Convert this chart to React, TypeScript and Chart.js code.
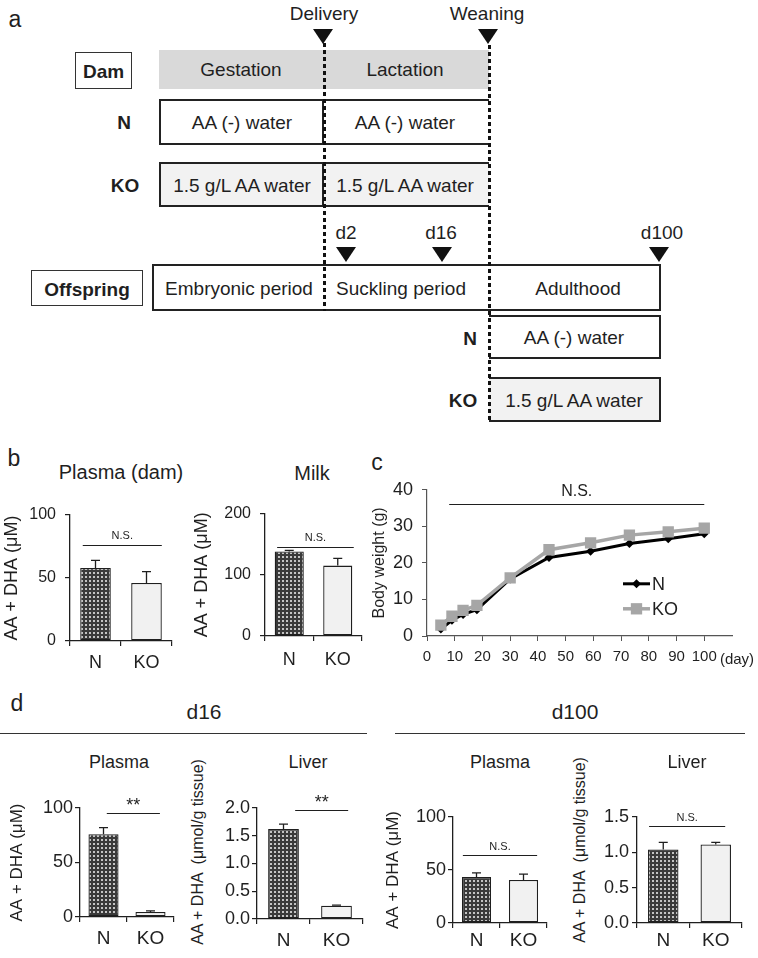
import React, { useEffect, useRef } from 'react';
import { Chart, registerables } from 'chart.js';

Chart.register(...registerables);

const FONT = '"Liberation Sans", Arial, Helvetica, sans-serif';
const INK = '#1f1f1f';

// ---------------- data ----------------
const groups = ['N', 'KO'];

const damPlasmaMean = [58, 46];
const damPlasmaErr = [6, 9];
const damPlasmaSig = 76;
const damPlasmaTicks = [0, 50, 100];

const milkMean = [138, 115];
const milkErr = [2, 12];
const milkSig = 146;
const milkTicks = [0, 100, 200];

const bwDays = [5, 9, 13, 18, 30, 44, 59, 73, 87, 100];
const bwN = [1.9, 4.3, 5.9, 7.2, 15.6, 21.5, 23.2, 25.3, 26.6, 28.0];
const bwKO = [3.0, 5.4, 7.0, 8.4, 15.9, 23.6, 25.5, 27.6, 28.5, 29.5];
const bwSig = 36;
const bwSigDays = [8, 100];
const bwYTicks = [0, 10, 20, 30, 40];
const bwXTicks = [0, 10, 20, 30, 40, 50, 60, 70, 80, 90, 100];

const d16PlasmaMean = [76, 4.6];
const d16PlasmaErr = [6, 1];
const d16PlasmaSig = 95;
const d16LiverMean = [1.62, 0.24];
const d16LiverErr = [0.09, 0.01];
const d16LiverSig = 1.96;
const d100PlasmaMean = [43.5, 40.6];
const d100PlasmaErr = [3.8, 5.6];
const d100PlasmaSig = 64;
const d100LiverMean = [1.04, 1.11];
const d100LiverErr = [0.1, 0.03];
const d100LiverSig = 1.37;
const plasmaTicks = [0, 50, 100];
const liver16Ticks = [0, 0.5, 1.0, 1.5, 2.0];
const liver100Ticks = [0, 0.5, 1.0, 1.5];

// ---------------- plugins ----------------
const annotPlugin = {
  id: 'annot',
  afterDatasetsDraw(chart: any, _args: any, opts: any) {
    const ctx = chart.ctx as CanvasRenderingContext2D;
    const xs = chart.scales.x;
    const ys = chart.scales.y;
    ctx.save();
    ctx.strokeStyle = INK;
    ctx.fillStyle = INK;
    if (opts.errors) {
      const meta = chart.getDatasetMeta(0);
      const vals = chart.data.datasets[0].data;
      meta.data.forEach((bar: any, i: number) => {
        const top = ys.getPixelForValue(vals[i] + opts.errors[i]);
        ctx.lineWidth = 1.3;
        ctx.beginPath();
        ctx.moveTo(bar.x, bar.y);
        ctx.lineTo(bar.x, top);
        ctx.moveTo(bar.x - opts.cap, top);
        ctx.lineTo(bar.x + opts.cap, top);
        ctx.stroke();
      });
    }
    if (opts.sig) {
      const s = opts.sig;
      let x1: number, x2: number;
      if (xs.type === 'category') {
        const p0 = xs.getPixelForValue(0);
        const p1 = xs.getPixelForValue(1);
        x1 = p0 + s.from * (p1 - p0);
        x2 = p0 + s.to * (p1 - p0);
      } else {
        x1 = xs.getPixelForValue(s.from);
        x2 = xs.getPixelForValue(s.to);
      }
      const y = Math.round(ys.getPixelForValue(s.value)) + 0.5;
      ctx.lineWidth = 1.2;
      ctx.beginPath();
      ctx.moveTo(x1, y);
      ctx.lineTo(x2, y);
      ctx.stroke();
      ctx.font = `${s.size}px ${FONT}`;
      ctx.textAlign = 'center';
      ctx.textBaseline = 'bottom';
      ctx.fillText(s.text, (x1 + x2) / 2 + (s.dx || 0), y - s.gap);
    }
    ctx.restore();
  },
};

const innerLegend = {
  id: 'innerLegend',
  afterDraw(chart: any, _args: any, opts: any) {
    const ctx = chart.ctx as CanvasRenderingContext2D;
    const ca = chart.chartArea;
    const x0 = ca.left + opts.dx;
    const y0 = ca.top + opts.dy;
    chart.data.datasets.forEach((ds: any, i: number) => {
      const y = y0 + i * opts.rowGap;
      ctx.save();
      ctx.strokeStyle = ds.borderColor;
      ctx.fillStyle = ds.borderColor;
      ctx.lineWidth = ds.borderWidth;
      ctx.beginPath();
      ctx.moveTo(x0, y);
      ctx.lineTo(x0 + opts.len, y);
      ctx.stroke();
      const cx = x0 + opts.len / 2;
      const r = ds.pointRadius;
      ctx.beginPath();
      if (ds.pointStyle === 'rectRot') {
        ctx.moveTo(cx, y - r);
        ctx.lineTo(cx + r, y);
        ctx.lineTo(cx, y + r);
        ctx.lineTo(cx - r, y);
        ctx.closePath();
      } else {
        const h = Math.SQRT1_2 * r;
        ctx.rect(cx - h, y - h, 2 * h, 2 * h);
      }
      ctx.fill();
      ctx.fillStyle = INK;
      ctx.font = `${opts.size}px ${FONT}`;
      ctx.textAlign = 'left';
      ctx.textBaseline = 'middle';
      ctx.fillText(ds.label, x0 + opts.len + 2, y + 1);
      ctx.restore();
    });
  },
};

function makeDotPattern(ctx: CanvasRenderingContext2D) {
  const c = document.createElement('canvas');
  c.width = 4;
  c.height = 4;
  const g = c.getContext('2d')!;
  g.fillStyle = '#3a3a3a';
  g.fillRect(0, 0, 4, 4);
  g.fillStyle = '#c4c4c4';
  g.fillRect(1, 1, 2, 2);
  return ctx.createPattern(c, 'repeat');
}

type BarOpts = {
  means: number[];
  errs: number[];
  ticks: number[];
  decimals: number;
  yTitle: string;
  sig: number;
  sigText: string;
  sigFrom: number;
  sigTo: number;
  sigSize: number;
  sigGap: number;
  yW: number;
  padTop: number;
  xH: number;
  padRight: number;
  titlePad: number;
  titleSize: number;
  tickSize: number;
  yTickPad: number;
  xTickPad: number;
  xSize: number;
  barPct: number;
};

function barConfig(o: BarOpts, ctx: CanvasRenderingContext2D): any {
  const pattern = makeDotPattern(ctx);
  return {
    type: 'bar',
    data: {
      labels: groups,
      datasets: [
        {
          data: o.means,
          backgroundColor: [pattern, '#f1f1f1'],
          borderColor: INK,
          borderWidth: 1.3,
          borderSkipped: false,
          barPercentage: o.barPct,
          categoryPercentage: 1,
        },
      ],
    },
    options: {
      responsive: false,
      animation: false,
      devicePixelRatio: 1,
      events: [],
      layout: { padding: { top: o.padTop, right: o.padRight, left: 0, bottom: 0 } },
      scales: {
        x: {
          type: 'category',
          offset: true,
          grid: { display: true, offset: true, drawOnChartArea: false, drawTicks: true, tickLength: 5, color: INK, lineWidth: 1.2 },
          border: { display: true, color: INK, width: 1.3 },
          ticks: { color: INK, font: { family: FONT, size: o.xSize }, padding: o.xTickPad, maxRotation: 0 },
          afterFit: (s: any) => {
            s.height = o.xH;
          },
        },
        y: {
          type: 'linear',
          min: o.ticks[0],
          max: o.ticks[o.ticks.length - 1],
          afterBuildTicks: (s: any) => {
            s.ticks = o.ticks.map((v) => ({ value: v }));
          },
          grid: { display: true, drawOnChartArea: false, drawTicks: true, tickLength: 5, color: INK, lineWidth: 1.2 },
          border: { display: true, color: INK, width: 1.3 },
          ticks: {
            color: INK,
            font: { family: FONT, size: o.tickSize },
            padding: o.yTickPad,
            callback: (v: any) => Number(v).toFixed(o.decimals),
          },
          title: {
            display: o.yTitle !== '',
            text: o.yTitle,
            color: INK,
            font: { family: FONT, size: o.titleSize },
            padding: { top: o.titlePad, bottom: 0 },
          },
          afterFit: (s: any) => {
            s.width = o.yW;
          },
        },
      },
      plugins: {
        legend: { display: false },
        tooltip: { enabled: false },
        annot: {
          errors: o.errs,
          cap: 4.5,
          sig: { value: o.sig, text: o.sigText, from: o.sigFrom, to: o.sigTo, size: o.sigSize, gap: o.sigGap },
        },
      },
    },
    plugins: [annotPlugin],
  };
}

function lineConfig(): any {
  return {
    type: 'line',
    data: {
      datasets: [
        {
          label: 'N',
          data: bwDays.map((d, i) => ({ x: d, y: bwN[i] })),
          borderColor: '#000000',
          backgroundColor: '#000000',
          pointBackgroundColor: '#000000',
          pointBorderColor: '#000000',
          borderWidth: 3,
          pointStyle: 'rectRot',
          pointRadius: 4.5,
          pointBorderWidth: 0,
          order: 1,
        },
        {
          label: 'KO',
          data: bwDays.map((d, i) => ({ x: d, y: bwKO[i] })),
          borderColor: '#a6a6a6',
          backgroundColor: '#a6a6a6',
          pointBackgroundColor: '#a6a6a6',
          pointBorderColor: '#a6a6a6',
          borderWidth: 3.5,
          pointStyle: 'rect',
          pointRadius: 8,
          pointBorderWidth: 0,
          order: 0,
        },
      ],
    },
    options: {
      responsive: false,
      animation: false,
      devicePixelRatio: 1,
      events: [],
      layout: { padding: { top: 17, right: 26, left: 0, bottom: 0 } },
      scales: {
        x: {
          type: 'linear',
          min: 0,
          max: 110,
          afterBuildTicks: (s: any) => {
            s.ticks = bwXTicks.map((v) => ({ value: v }));
          },
          grid: { display: true, drawOnChartArea: false, drawTicks: true, tickLength: 5, color: '#555', lineWidth: 1 },
          border: { display: true, color: '#555', width: 1.2 },
          ticks: { color: INK, font: { family: FONT, size: 15 }, padding: 7, maxRotation: 0 },
          afterFit: (s: any) => {
            s.height = 34;
          },
        },
        y: {
          type: 'linear',
          min: bwYTicks[0],
          max: bwYTicks[bwYTicks.length - 1],
          afterBuildTicks: (s: any) => {
            s.ticks = bwYTicks.map((v) => ({ value: v }));
          },
          grid: { display: true, drawOnChartArea: false, drawTicks: true, tickLength: 5, color: '#555', lineWidth: 1 },
          border: { display: true, color: '#555', width: 1.2 },
          ticks: { color: INK, font: { family: FONT, size: 18 }, padding: 9 },
          title: {
            display: true,
            text: 'Body weight (g)',
            color: INK,
            font: { family: FONT, size: 16 },
            padding: { top: 10, bottom: 0 },
          },
          afterFit: (s: any) => {
            s.width = 67;
          },
        },
      },
      plugins: {
        legend: { display: false },
        tooltip: { enabled: false },
        annot: { sig: { value: bwSig, text: 'N.S.', from: bwSigDays[0], to: bwSigDays[1], size: 16, gap: 5, dx: 0 } },
        innerLegend: { dx: 196, dy: 94, len: 27, rowGap: 25, size: 18 },
      },
    },
    plugins: [annotPlugin, innerLegend],
  };
}

function ChartBox(props: { left: number; top: number; width: number; height: number; build: (ctx: CanvasRenderingContext2D) => any }) {
  const ref = useRef<HTMLCanvasElement>(null);
  useEffect(() => {
    const cv = ref.current!;
    const chart = new Chart(cv, props.build(cv.getContext('2d')!));
    return () => chart.destroy();
  }, []);
  return (
    <canvas
      ref={ref}
      width={props.width}
      height={props.height}
      style={{ position: 'absolute', left: props.left, top: props.top, width: props.width, height: props.height }}
    />
  );
}

// ---------------- diagram helpers ----------------
function T(p: { x: number; y: number; size: number; bold?: boolean; rotate?: boolean; children: React.ReactNode }) {
  return (
    <div
      style={{
        position: 'absolute',
        left: p.x,
        top: p.y,
        transform: p.rotate ? 'translate(-50%, -50%) rotate(-90deg)' : 'translate(-50%, -50%)',
        fontSize: p.size,
        fontWeight: p.bold ? 700 : 400,
        whiteSpace: 'pre',
        lineHeight: 1,
      }}
    >
      {p.children}
    </div>
  );
}

function Tri(p: { x: number; top: number }) {
  return (
    <div
      style={{
        position: 'absolute',
        left: p.x - 10,
        top: p.top,
        width: 0,
        height: 0,
        borderLeft: '10px solid transparent',
        borderRight: '10px solid transparent',
        borderTop: '15px solid #111',
      }}
    />
  );
}

function VDots(p: { x: number; top: number; bottom: number }) {
  return (
    <div
      style={{
        position: 'absolute',
        left: p.x - 1.5,
        top: p.top,
        width: 3,
        height: p.bottom - p.top,
        background: 'repeating-linear-gradient(to bottom, #111 0px, #111 4px, transparent 4px, transparent 7px)',
      }}
    />
  );
}

function Box(p: { left: number; top: number; width: number; height: number; bg?: string; noLeft?: boolean; noRight?: boolean; thin?: boolean }) {
  const b = p.thin ? '1.5px solid #333' : '2px solid #222';
  return (
    <div
      style={{
        position: 'absolute',
        boxSizing: 'border-box',
        left: p.left,
        top: p.top,
        width: p.width,
        height: p.height,
        background: p.bg || '#fff',
        borderTop: b,
        borderBottom: b,
        borderLeft: p.noLeft ? 'none' : b,
        borderRight: p.noRight ? 'none' : b,
      }}
    />
  );
}

function HLine(p: { left: number; top: number; width: number }) {
  return <div style={{ position: 'absolute', left: p.left, top: p.top, width: p.width, height: 1.3, background: '#333' }} />;
}

export default function App() {
  const common = { titleSize: 18, sigText: 'N.S.', sigSize: 11 };
  return (
    <div
      style={{
        position: 'absolute',
        left: 0,
        top: 0,
        width: 758,
        height: 958,
        background: '#fff',
        fontFamily: FONT,
        color: INK,
        overflow: 'hidden',
      }}
    >
      {/* ---------- panel a ---------- */}
      <T x={15} y={19} size={23}>a</T>
      <T x={324} y={13} size={19}>Delivery</T>
      <Tri x={323} top={29} />
      <T x={487} y={13} size={19}>Weaning</T>
      <Tri x={488} top={29} />

      <Box left={75} top={52} width={57} height={37} thin />
      <T x={103.5} y={70.5} size={19} bold>Dam</T>
      <div style={{ position: 'absolute', left: 159, top: 50, width: 330, height: 39, background: '#d9d9d9' }} />
      <T x={241} y={69} size={19}>Gestation</T>
      <T x={405} y={69} size={19}>Lactation</T>

      <T x={124} y={122} size={19} bold>N</T>
      <Box left={159} top={99} width={330} height={46} noRight />
      <div style={{ position: 'absolute', left: 322, top: 99, width: 1.5, height: 46, background: '#222' }} />
      <T x={242} y={122} size={19}>AA (-) water</T>
      <T x={405} y={122} size={19}>AA (-) water</T>

      <T x={125} y={185} size={19} bold>KO</T>
      <Box left={159} top={162} width={330} height={45} bg="#f2f2f2" noRight />
      <div style={{ position: 'absolute', left: 322, top: 162, width: 1.5, height: 45, background: '#222' }} />
      <T x={242} y={185} size={19}>1.5 g/L AA water</T>
      <T x={405} y={185} size={19}>1.5 g/L AA water</T>

      <T x={346} y={232} size={19}>d2</T>
      <Tri x={346} top={247} />
      <T x={441} y={232} size={19}>d16</T>
      <Tri x={442} top={247} />
      <T x={662} y={232} size={19}>d100</T>
      <Tri x={659} top={247} />

      <Box left={31} top={270} width={112} height={36} thin />
      <T x={87} y={288.5} size={19} bold>Offspring</T>
      <Box left={152} top={264} width={509} height={47} />
      <T x={239} y={288} size={19}>Embryonic period</T>
      <T x={401} y={288} size={19}>Suckling period</T>
      <T x={578} y={288} size={19}>Adulthood</T>

      <T x={470} y={338} size={19} bold>N</T>
      <Box left={489} top={315} width={172} height={44} noLeft />
      <T x={574} y={337} size={19}>AA (-) water</T>
      <T x={463} y={400} size={19} bold>KO</T>
      <Box left={489} top={377} width={172} height={45} bg="#f2f2f2" noLeft />
      <T x={574} y={400} size={19}>1.5 g/L AA water</T>

      <VDots x={324} top={43} bottom={311} />
      <VDots x={489} top={45} bottom={422} />

      {/* ---------- panel b ---------- */}
      <T x={14} y={458} size={23}>b</T>
      <T x={121} y={472} size={20}>Plasma (dam)</T>
      <T x={312} y={473} size={20}>Milk</T>
      <ChartBox
        left={0}
        top={495}
        width={180}
        height={180}
        build={(ctx) =>
          barConfig(
            {
              ...common,
              means: damPlasmaMean,
              errs: damPlasmaErr,
              ticks: damPlasmaTicks,
              decimals: 0,
              yTitle: 'AA + DHA (μM)',
              sig: damPlasmaSig,
              sigFrom: -0.25,
              sigTo: 1.3,
              sigGap: 4,
              yW: 70,
              padTop: 20,
              xH: 34,
              padRight: 8,
              titlePad: 1,
              tickSize: 16,
              yTickPad: 9,
              xTickPad: 6,
              xSize: 18,
              barPct: 0.6,
            },
            ctx,
          )
        }
      />
      <ChartBox
        left={185}
        top={495}
        width={185}
        height={180}
        build={(ctx) =>
          barConfig(
            {
              ...common,
              means: milkMean,
              errs: milkErr,
              ticks: milkTicks,
              decimals: 0,
              yTitle: 'AA + DHA (μM)',
              sig: milkSig,
              sigFrom: -0.25,
              sigTo: 1.33,
              sigGap: 4,
              yW: 80,
              padTop: 18,
              xH: 39,
              padRight: 8,
              titlePad: 6,
              tickSize: 16,
              yTickPad: 9,
              xTickPad: 8,
              xSize: 18,
              barPct: 0.6,
            },
            ctx,
          )
        }
      />

      {/* ---------- panel c ---------- */}
      <T x={377} y={462} size={23}>c</T>
      <ChartBox left={360} top={470} width={398} height={200} build={() => lineConfig()} />
      <T x={737} y={658} size={15}>(day)</T>

      {/* ---------- panel d ---------- */}
      <T x={17} y={703} size={23}>d</T>
      <T x={204} y={711} size={21}>d16</T>
      <T x={575} y={711} size={21}>d100</T>
      <HLine left={0} top={733} width={367} />
      <HLine left={395} top={733} width={350} />
      <T x={119} y={762} size={18}>Plasma</T>
      <T x={308} y={762} size={18}>Liver</T>
      <T x={500} y={762} size={18}>Plasma</T>
      <T x={687} y={762} size={18}>Liver</T>
      <T x={198} y={852} size={16} rotate>{'AA + DHA  (μmol/g tissue)'}</T>
      <T x={580} y={850} size={16} rotate>{'AA + DHA  (μmol/g tissue)'}</T>

      <ChartBox
        left={0}
        top={790}
        width={185}
        height={165}
        build={(ctx) =>
          barConfig(
            {
              ...common,
              titleSize: 17,
              means: d16PlasmaMean,
              errs: d16PlasmaErr,
              ticks: plasmaTicks,
              decimals: 0,
              yTitle: 'AA + DHA (μM)',
              sig: d16PlasmaSig,
              sigText: '**',
              sigSize: 18,
              sigFrom: 0.07,
              sigTo: 1.2,
              sigGap: -2,
              yW: 80,
              padTop: 18,
              xH: 38,
              padRight: 11,
              titlePad: 7,
              tickSize: 18,
              yTickPad: 2,
              xTickPad: 5,
              xSize: 19,
              barPct: 0.64,
            },
            ctx,
          )
        }
      />
      <ChartBox
        left={205}
        top={790}
        width={170}
        height={165}
        build={(ctx) =>
          barConfig(
            {
              ...common,
              means: d16LiverMean,
              errs: d16LiverErr,
              ticks: liver16Ticks,
              decimals: 1,
              yTitle: '',
              sig: d16LiverSig,
              sigText: '**',
              sigSize: 18,
              sigFrom: 0.22,
              sigTo: 1.22,
              sigGap: -2,
              yW: 52,
              padTop: 18,
              xH: 36,
              padRight: 12,
              titlePad: 3,
              tickSize: 18,
              yTickPad: 2,
              xTickPad: 5,
              xSize: 19,
              barPct: 0.58,
            },
            ctx,
          )
        }
      />
      <ChartBox
        left={380}
        top={795}
        width={180}
        height={160}
        build={(ctx) =>
          barConfig(
            {
              ...common,
              titleSize: 17,
              means: d100PlasmaMean,
              errs: d100PlasmaErr,
              ticks: plasmaTicks,
              decimals: 0,
              yTitle: 'AA + DHA (μM)',
              sig: d100PlasmaSig,
              sigFrom: -0.29,
              sigTo: 1.29,
              sigGap: 3,
              yW: 73,
              padTop: 22,
              xH: 32,
              padRight: 13,
              titlePad: 3,
              tickSize: 18,
              yTickPad: 2,
              xTickPad: 1,
              xSize: 19,
              barPct: 0.62,
            },
            ctx,
          )
        }
      />
      <ChartBox
        left={587}
        top={795}
        width={168}
        height={160}
        build={(ctx) =>
          barConfig(
            {
              ...common,
              means: d100LiverMean,
              errs: d100LiverErr,
              ticks: liver100Ticks,
              decimals: 1,
              yTitle: '',
              sig: d100LiverSig,
              sigFrom: -0.27,
              sigTo: 1.18,
              sigGap: 3,
              yW: 50,
              padTop: 22,
              xH: 32,
              padRight: 13,
              titlePad: 5,
              tickSize: 18,
              yTickPad: 3,
              xTickPad: 1,
              xSize: 19,
              barPct: 0.58,
            },
            ctx,
          )
        }
      />
    </div>
  );
}
